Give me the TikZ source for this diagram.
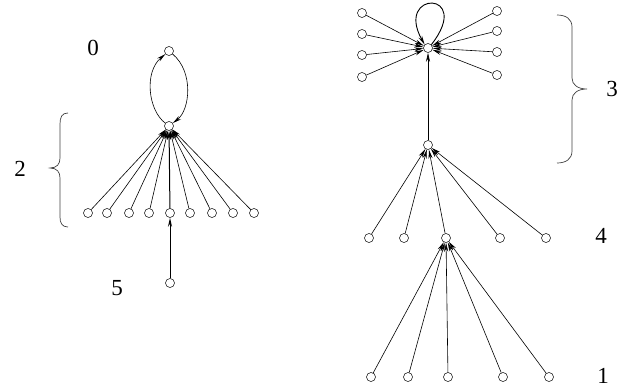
\documentclass[tikz,border=0pt]{standalone}
\usepackage{fontspec}
\setmainfont{Liberation Serif}
\usetikzlibrary{arrows.meta}
\begin{document}
\begin{tikzpicture}[x=1pt,y=-1pt,
  vtx/.style={circle,draw,fill=white,inner sep=0pt,minimum size=9pt,line width=0.5pt},
  arr/.style={-{Stealth[length=9pt,width=4pt]},line width=0.6pt},
  thick arr/.style={arr,line width=1pt},
  lbl/.style={font=\fontsize{23}{26}\selectfont,inner sep=0pt},
  brc/.style={draw=black!75,line width=0.7pt}]
\useasboundingbox (0,0) rectangle (635,388);
% ---------- left graph ----------
\node[vtx] (L0) at (169,51) {};
\node[vtx] (LH) at (169,126) {};
\foreach \i/\x in {1/88,2/107,3/129,4/149,5/170,6/190,7/212,8/233,9/254}{
  \node[vtx] (B\i) at (\x,213) {};
}
\node[vtx] (L5) at (170,283) {};
\foreach \i in {1,2,3,4,6,7,8,9}{
  \draw[arr] (B\i) -- (LH);
}
\draw[thick arr] (B5) -- (LH);
\draw[thick arr] (L5) -- (B5);
\draw[arr] (LH) .. controls (148,110) and (144,72) .. (L0);
\draw[arr] (L0) .. controls (194,72) and (190,110) .. (LH);
% ---------- right graph ----------
\node[vtx] (T) at (428,48) {};
\foreach \i/\y in {1/13,2/34,3/55,4/77}{
  \node[vtx] (TL\i) at (362,\y) {};
}
\foreach \i/\y in {1/11,2/31,3/52,4/75}{
  \node[vtx] (TR\i) at (497,\y) {};
}
\foreach \i in {1,...,4}{
  \draw[arr] (TL\i) -- (T);
  \draw[arr] (TR\i) -- (T);
}
\draw[arr,line width=0.9pt] (T.north east) .. controls (474,-10) and (394,-10) .. (T.north west);
\node[vtx] (M) at (428,145) {};
\draw[arr] (M) -- (T);
\node[vtx] (H) at (446,238) {};
\foreach \i/\x in {1/369,2/404,4/500,5/546}{
  \node[vtx] (F\i) at (\x,238) {};
  \draw[arr] (F\i) -- (M);
}
\draw[arr] (H) -- (M);
\foreach \i/\x in {1/371,2/408,3/448,4/503,5/549}{
  \node[vtx] (G\i) at (\x,377) {};
  \draw[arr] (G\i) -- (H);
}
% ---------- braces ----------
\draw[brc] (68,113) .. controls (62,113) and (60,117) .. (60,124) -- (60,158)
  .. controls (60,164) and (57,168) .. (50,168)
  .. controls (57,168) and (60,172) .. (60,178) -- (60,217)
  .. controls (60,223) and (62,227) .. (68,227);
\draw[brc] (557,15) .. controls (566,15) and (572,19) .. (572,27) -- (572,78)
  .. controls (572,85) and (578,89) .. (587,89)
  .. controls (578,89) and (572,93) .. (572,100) -- (572,151)
  .. controls (572,159) and (566,163) .. (557,163);
% ---------- labels ----------
\node[lbl] (n0) at (93,48) {0};
\node[lbl] (n2) at (20,169) {2};
\node[lbl] (n5) at (117,288) {5};
\node[lbl] (n3) at (612,89) {3};
\node[lbl] (n4) at (601,236) {4};
\node[lbl] (n1) at (603,376) {1};
\end{tikzpicture}
\end{document}
